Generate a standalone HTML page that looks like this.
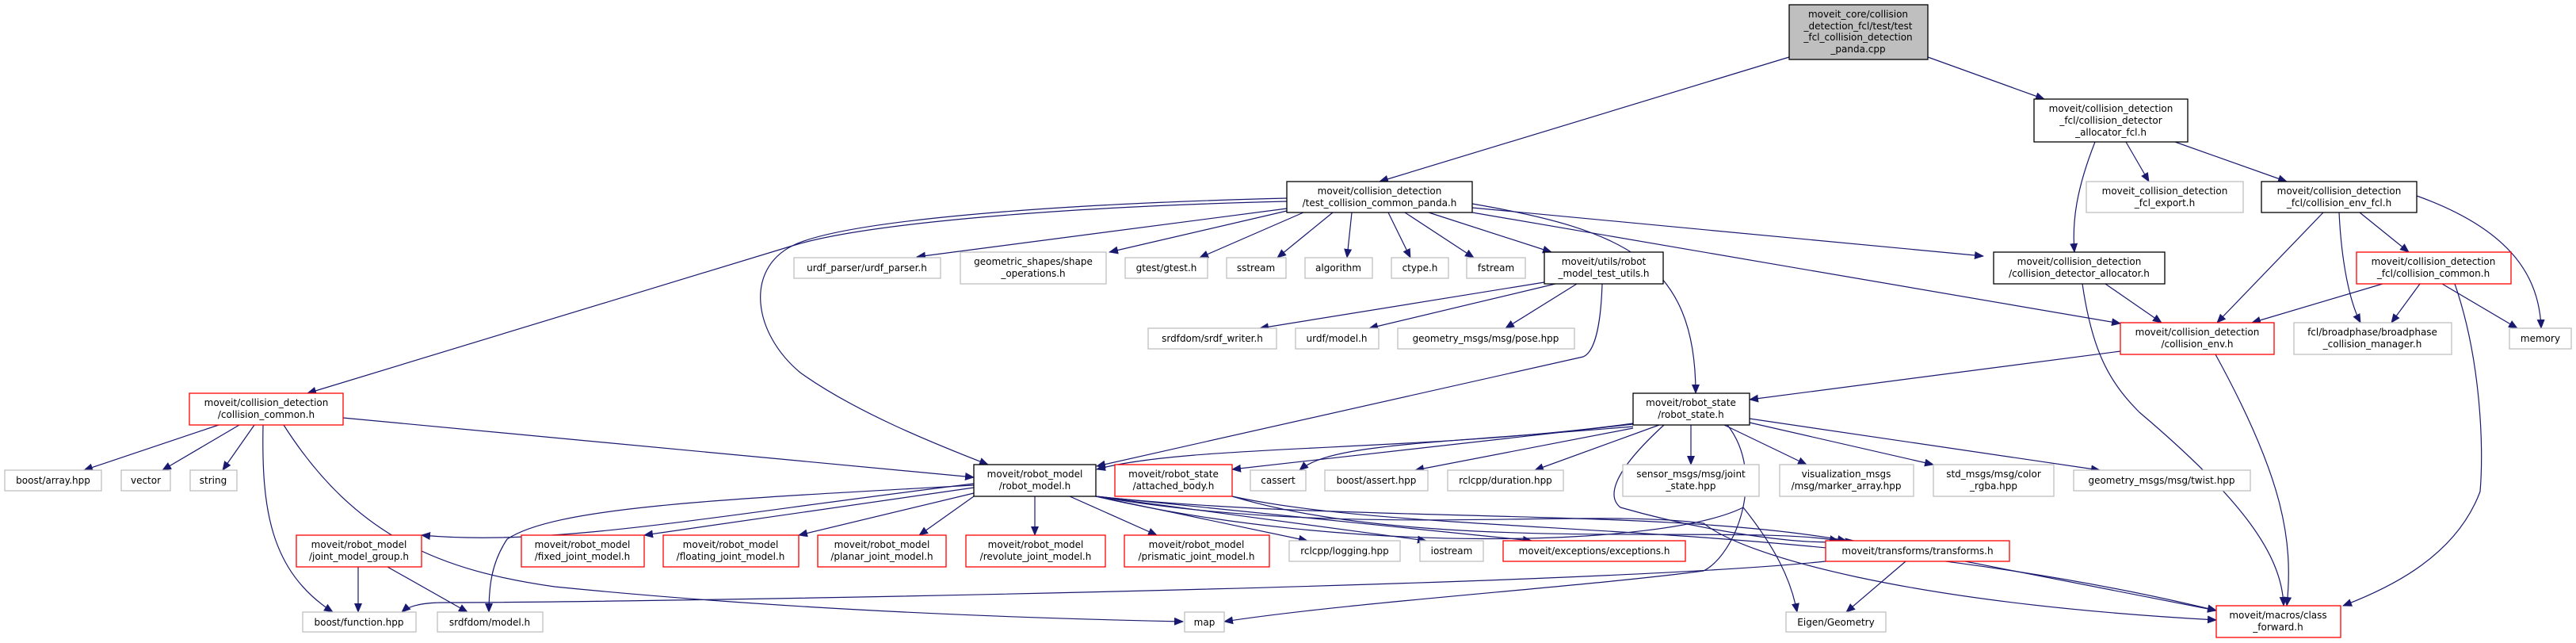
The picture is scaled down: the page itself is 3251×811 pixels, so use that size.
<!DOCTYPE html>
<html><head><meta charset="utf-8"><style>
html,body{margin:0;padding:0;background:#fff;}
svg{display:block}
text{font-family:"DejaVu Sans","Liberation Sans",sans-serif;font-size:12px;fill:#000;text-anchor:middle}
.e{fill:none;stroke:#191970;stroke-width:1.2}
.k{fill:#fff;stroke:#000;stroke-width:1.3}
.g{fill:#fff;stroke:#bfbfbf;stroke-width:1.3}
.r{fill:#fff;stroke:#ff0000;stroke-width:1.3}
</style></head><body>
<svg width="3251" height="811" viewBox="0 0 3251 811" xmlns="http://www.w3.org/2000/svg">
<defs><marker id="a" markerWidth="12" markerHeight="10" refX="11" refY="5" orient="auto" markerUnits="userSpaceOnUse"><path d="M0,0 L12,5 L0,10 Z" fill="#191970"/></marker></defs>
<g marker-end="url(#a)">
<path class="e" d="M2258,72 L1741,229"/>
<path class="e" d="M2433,72 L2580,125"/>
<path class="e" d="M2644,179 C2620,240 2615,280 2618,318"/>
<path class="e" d="M2683,179 L2712,229"/>
<path class="e" d="M2745,179 L2886,229"/>
<path class="e" d="M2932,268 L2798,407"/>
<path class="e" d="M2952,268 C2955,330 2965,380 2979,407"/>
<path class="e" d="M2978,268 L3040,318"/>
<path class="e" d="M3050,247 C3170,290 3205,350 3207,414"/>
<path class="e" d="M3007,358 L2842,407"/>
<path class="e" d="M3054,358 L3018,407"/>
<path class="e" d="M3082,358 L3177,414"/>
<path class="e" d="M3098,358 C3130,450 3135,560 3130,620 C3100,700 3020,740 2957,764"/>
<path class="e" d="M2657,358 L2728,407"/>
<path class="e" d="M2628,358 C2640,440 2660,480 2700,520 C2830,630 2880,700 2882,764"/>
<path class="e" d="M2676,443 L2208,504"/>
<path class="e" d="M2796,447 C2880,600 2895,680 2886,764"/>
<path class="e" d="M1624,254 C1300,262 1080,285 1000,310 L388,496"/>
<path class="e" d="M1624,263 L1157,324"/>
<path class="e" d="M1624,250 C1300,258 1060,280 1000,310 C940,340 950,420 1010,470 C1080,520 1180,560 1247,586"/>
<path class="e" d="M1624,266 L1400,318"/>
<path class="e" d="M1645,268 L1514,325"/>
<path class="e" d="M1682,268 L1612,325"/>
<path class="e" d="M1706,268 L1700,325"/>
<path class="e" d="M1752,268 L1780,325"/>
<path class="e" d="M1773,268 L1860,325"/>
<path class="e" d="M1803,268 L1958,318"/>
<path class="e" d="M1858,257 C2050,290 2140,330 2140,496"/>
<path class="e" d="M1858,262 L2503,323"/>
<path class="e" d="M1858,268 L2676,408"/>
<path class="e" d="M1949,356 L1590,414"/>
<path class="e" d="M1963,358 L1728,414"/>
<path class="e" d="M1990,358 L1900,414"/>
<path class="e" d="M2022,358 C2020,420 2010,445 1998,450 L1384,588"/>
<path class="e" d="M2061,534 C1800,570 1500,560 1384,592"/>
<path class="e" d="M2061,535 L1555,592"/>
<path class="e" d="M2061,538 C1800,560 1680,560 1640,593"/>
<path class="e" d="M2061,540 L1786,593"/>
<path class="e" d="M2094,536 L1937,593"/>
<path class="e" d="M2134,536 L2134,586"/>
<path class="e" d="M2176,536 L2280,586"/>
<path class="e" d="M2208,533 L2440,586"/>
<path class="e" d="M2208,528 L2650,593"/>
<path class="e" d="M2100,536 C2030,600 2030,628 2045,640 C2150,670 2280,690 2340,682"/>
<path class="e" d="M2180,536 C2230,600 2190,700 2150,720 C2000,740 1700,760 1545,784"/>
<path class="e" d="M1229,610 C900,650 700,690 532,675"/>
<path class="e" d="M1229,615 L813,675"/>
<path class="e" d="M1229,622 L1008,675"/>
<path class="e" d="M1229,626 L1160,675"/>
<path class="e" d="M1306,626 L1306,675"/>
<path class="e" d="M1350,626 L1460,675"/>
<path class="e" d="M1383,626 L1650,682"/>
<path class="e" d="M1383,626 L1800,682"/>
<path class="e" d="M1383,626 L1933,682"/>
<path class="e" d="M1229,612 C900,630 700,640 640,680 C620,710 617,740 617,772"/>
<path class="e" d="M1383,626 C1700,700 2100,690 2200,640 C2240,690 2260,730 2268,772"/>
<path class="e" d="M1383,626 C1700,680 2000,640 2150,660 C2200,700 2400,760 2797,782"/>
<path class="e" d="M1383,626 C1700,660 2100,640 2330,682"/>
<path class="e" d="M1555,626 C1800,700 2200,660 2320,682"/>
<path class="e" d="M1555,626 C1800,680 2300,650 2797,770"/>
<path class="e" d="M276,536 L106,593"/>
<path class="e" d="M302,536 L205,593"/>
<path class="e" d="M321,536 L281,593"/>
<path class="e" d="M332,536 C330,640 340,720 420,772"/>
<path class="e" d="M358,536 C450,680 560,720 700,740 C1000,770 1300,780 1493,784"/>
<path class="e" d="M433,527 L1229,602"/>
<path class="e" d="M452,715 L452,772"/>
<path class="e" d="M489,715 L590,772"/>
<path class="e" d="M2304,708 C2000,740 800,760 560,760 C530,760 515,765 507,772"/>
<path class="e" d="M2405,708 L2330,772"/>
<path class="e" d="M2480,708 L2797,770"/>
</g>
<rect x="2258" y="6" width="175" height="69" fill="#bfbfbf" stroke="#000" stroke-width="1.3"/>
<text x="2345" y="22">moveit_core/collision</text><text x="2345" y="37">_detection_fcl/test/test</text><text x="2345" y="51">_fcl_collision_detection</text><text x="2345" y="66">_panda.cpp</text>
<rect class="k" x="2567" y="125" width="194" height="54"/>
<text x="2664" y="141">moveit/collision_detection</text><text x="2664" y="156">_fcl/collision_detector</text><text x="2664" y="171">_allocator_fcl.h</text>
<rect class="g" x="2633" y="229" width="198" height="39"/><text x="2732" y="245">moveit_collision_detection</text><text x="2732" y="260">_fcl_export.h</text>
<rect class="k" x="2854" y="229" width="196" height="39"/><text x="2952" y="245">moveit/collision_detection</text><text x="2952" y="260">_fcl/collision_env_fcl.h</text>
<rect class="k" x="2516" y="318" width="216" height="40"/><text x="2624" y="334">moveit/collision_detection</text><text x="2624" y="349">/collision_detector_allocator.h</text>
<rect class="r" x="2974" y="318" width="195" height="40"/><text x="3071" y="334">moveit/collision_detection</text><text x="3071" y="349">_fcl/collision_common.h</text>
<rect class="k" x="1624" y="229" width="234" height="39"/><text x="1741" y="245">moveit/collision_detection</text><text x="1741" y="260">/test_collision_common_panda.h</text>
<rect class="g" x="1002" y="325" width="185" height="26"/><text x="1094" y="342">urdf_parser/urdf_parser.h</text>
<rect class="g" x="1212" y="318" width="184" height="40"/><text x="1304" y="334">geometric_shapes/shape</text><text x="1304" y="349">_operations.h</text>
<rect class="g" x="1420" y="325" width="104" height="26"/><text x="1472" y="342">gtest/gtest.h</text>
<rect class="g" x="1548" y="325" width="75" height="26"/><text x="1585" y="342">sstream</text>
<rect class="g" x="1647" y="325" width="85" height="26"/><text x="1689" y="342">algorithm</text>
<rect class="g" x="1756" y="325" width="72" height="26"/><text x="1792" y="342">ctype.h</text>
<rect class="g" x="1851" y="325" width="74" height="26"/><text x="1888" y="342">fstream</text>
<rect class="k" x="1949" y="318" width="150" height="40"/><text x="2024" y="334">moveit/utils/robot</text><text x="2024" y="349">_model_test_utils.h</text>
<rect class="g" x="1449" y="414" width="162" height="26"/><text x="1530" y="431">srdfdom/srdf_writer.h</text>
<rect class="g" x="1635" y="414" width="105" height="26"/><text x="1687" y="431">urdf/model.h</text>
<rect class="g" x="1764" y="414" width="223" height="26"/><text x="1875" y="431">geometry_msgs/msg/pose.hpp</text>
<rect class="r" x="2676" y="407" width="194" height="40"/><text x="2773" y="423">moveit/collision_detection</text><text x="2773" y="438">/collision_env.h</text>
<rect class="g" x="2895" y="407" width="199" height="40"/><text x="2994" y="423">fcl/broadphase/broadphase</text><text x="2994" y="438">_collision_manager.h</text>
<rect class="g" x="3167" y="414" width="78" height="26"/><text x="3206" y="431">memory</text>
<rect class="r" x="239" y="496" width="194" height="40"/><text x="336" y="512">moveit/collision_detection</text><text x="336" y="527">/collision_common.h</text>
<rect class="k" x="2061" y="496" width="147" height="40"/><text x="2134" y="512">moveit/robot_state</text><text x="2134" y="527">/robot_state.h</text>
<rect class="g" x="6" y="593" width="122" height="26"/><text x="67" y="610">boost/array.hpp</text>
<rect class="g" x="153" y="593" width="62" height="26"/><text x="184" y="610">vector</text>
<rect class="g" x="240" y="593" width="59" height="26"/><text x="269" y="610">string</text>
<rect class="k" x="1229" y="586" width="154" height="40"/><text x="1306" y="602">moveit/robot_model</text><text x="1306" y="617">/robot_model.h</text>
<rect class="r" x="1407" y="586" width="148" height="40"/><text x="1481" y="602">moveit/robot_state</text><text x="1481" y="617">/attached_body.h</text>
<rect class="g" x="1578" y="593" width="70" height="26"/><text x="1613" y="610">cassert</text>
<rect class="g" x="1672" y="593" width="130" height="26"/><text x="1737" y="610">boost/assert.hpp</text>
<rect class="g" x="1827" y="593" width="146" height="26"/><text x="1900" y="610">rclcpp/duration.hpp</text>
<rect class="g" x="2048" y="586" width="172" height="40"/><text x="2134" y="602">sensor_msgs/msg/joint</text><text x="2134" y="617">_state.hpp</text>
<rect class="g" x="2246" y="586" width="169" height="40"/><text x="2330" y="602">visualization_msgs</text><text x="2330" y="617">/msg/marker_array.hpp</text>
<rect class="g" x="2440" y="586" width="152" height="40"/><text x="2516" y="602">std_msgs/msg/color</text><text x="2516" y="617">_rgba.hpp</text>
<rect class="g" x="2617" y="593" width="223" height="26"/><text x="2728" y="610">geometry_msgs/msg/twist.hpp</text>
<rect class="r" x="374" y="675" width="158" height="40"/><text x="453" y="691">moveit/robot_model</text><text x="453" y="706">/joint_model_group.h</text>
<rect class="r" x="658" y="675" width="155" height="40"/><text x="735" y="691">moveit/robot_model</text><text x="735" y="706">/fixed_joint_model.h</text>
<rect class="r" x="837" y="675" width="171" height="40"/><text x="922" y="691">moveit/robot_model</text><text x="922" y="706">/floating_joint_model.h</text>
<rect class="r" x="1032" y="675" width="162" height="40"/><text x="1113" y="691">moveit/robot_model</text><text x="1113" y="706">/planar_joint_model.h</text>
<rect class="r" x="1219" y="675" width="176" height="40"/><text x="1307" y="691">moveit/robot_model</text><text x="1307" y="706">/revolute_joint_model.h</text>
<rect class="r" x="1419" y="675" width="183" height="40"/><text x="1510" y="691">moveit/robot_model</text><text x="1510" y="706">/prismatic_joint_model.h</text>
<rect class="g" x="1627" y="682" width="140" height="26"/><text x="1697" y="699">rclcpp/logging.hpp</text>
<rect class="g" x="1792" y="682" width="80" height="26"/><text x="1832" y="699">iostream</text>
<rect class="r" x="1897" y="682" width="230" height="26"/><text x="2012" y="699">moveit/exceptions/exceptions.h</text>
<rect class="r" x="2304" y="682" width="232" height="26"/><text x="2420" y="699">moveit/transforms/transforms.h</text>
<rect class="g" x="382" y="772" width="143" height="25"/><text x="453" y="789">boost/function.hpp</text>
<rect class="g" x="552" y="772" width="133" height="25"/><text x="618" y="789">srdfdom/model.h</text>
<rect class="g" x="1495" y="772" width="50" height="25"/><text x="1520" y="789">map</text>
<rect class="g" x="2254" y="772" width="126" height="25"/><text x="2317" y="789">Eigen/Geometry</text>
<rect class="r" x="2797" y="764" width="157" height="40"/><text x="2875" y="780">moveit/macros/class</text><text x="2875" y="795">_forward.h</text>
</svg>
</body></html>
